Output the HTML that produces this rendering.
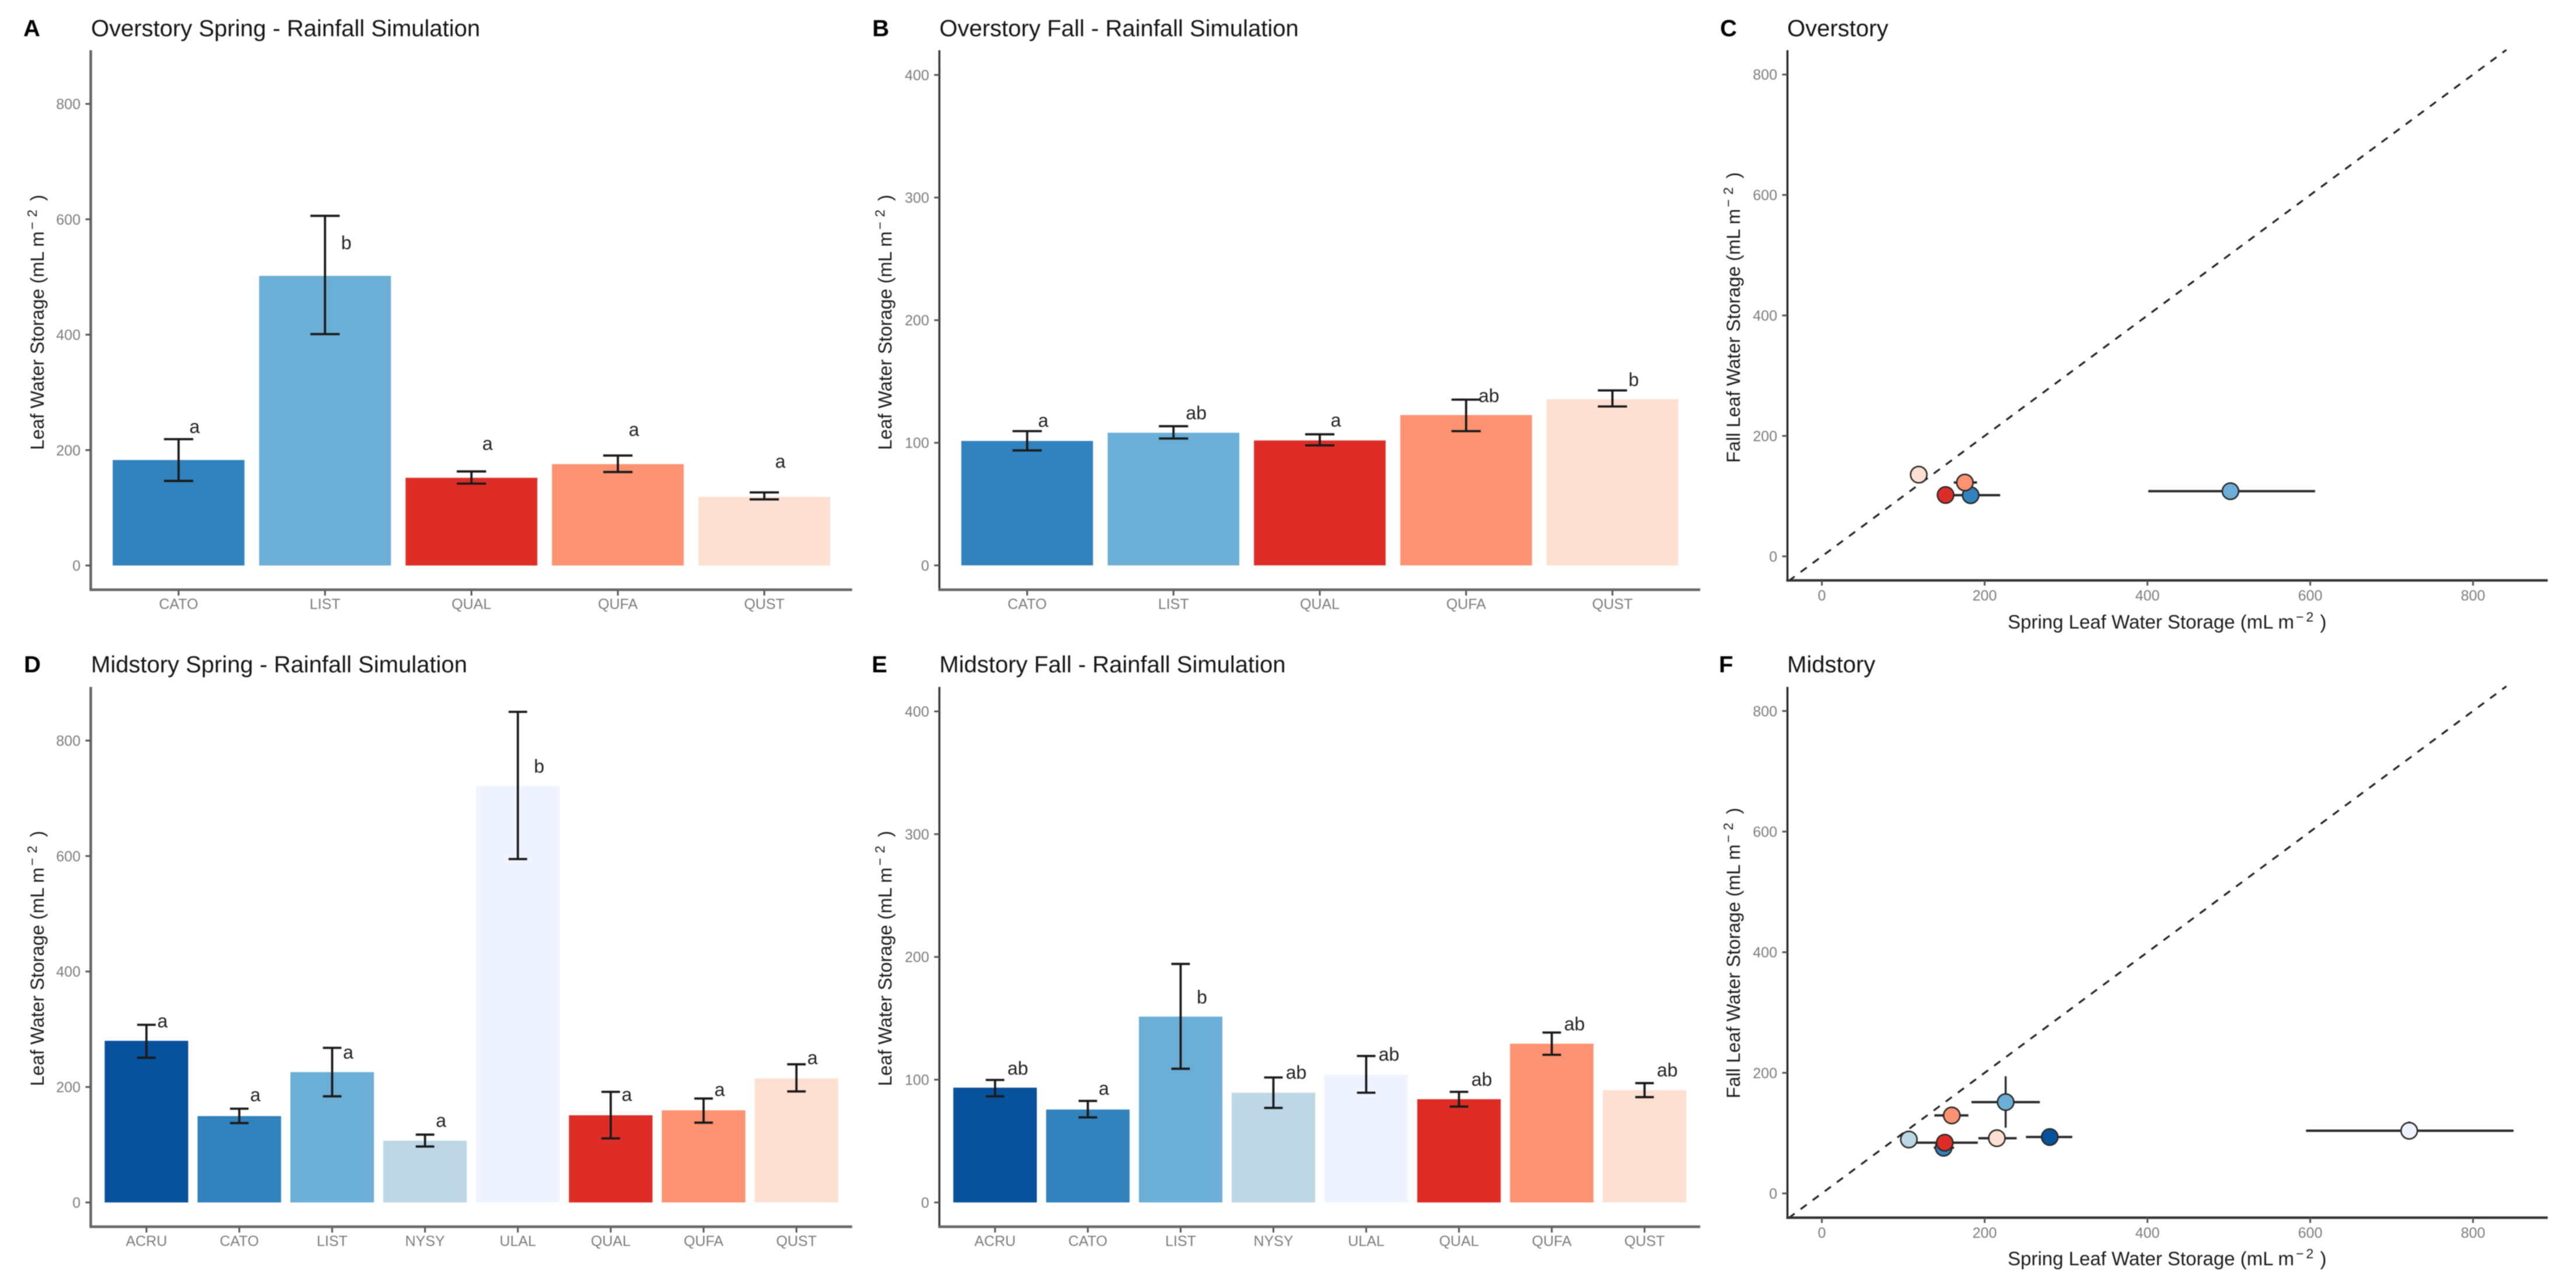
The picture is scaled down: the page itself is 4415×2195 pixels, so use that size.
<!DOCTYPE html>
<html lang="en">
<head>
<meta charset="utf-8">
<title>Leaf Water Storage - Rainfall Simulation</title>
<style>
  html, body { margin: 0; padding: 0; background: #ffffff; }
  svg { display: block; filter: blur(0.7px); }
  text { font-family: "Liberation Sans", Arial, sans-serif; }
  .title { font-size: 40px; fill: #151515; }
  .tag { font-size: 40px; font-weight: bold; fill: #000000; }
  .axis-title { font-size: 32px; fill: #1c1c1c; }
  .axis-title-x { font-size: 33px; fill: #1c1c1c; }
  .tick-label { font-size: 25px; fill: #7c7c7c; }
  .sig-label { font-size: 32px; fill: #222222; text-anchor: middle; }
</style>
</head>
<body>
<svg id="figure" xmlns="http://www.w3.org/2000/svg" width="4415" height="2195" viewBox="0 0 4415 2195">
  <rect x="0" y="0" width="4415" height="2195" fill="#ffffff"/>

  <g id="panel-a">
    <text class="tag" x="40" y="62">A</text>
    <text class="title" x="156" y="62">Overstory Spring - Rainfall Simulation</text>
    <text class="axis-title" transform="translate(75,771) rotate(-90)">Leaf Water Storage (mL m<tspan font-size="23" dx="3" dy="-12">−</tspan><tspan font-size="23" dx="8">2</tspan><tspan dx="6" dy="12"> )</tspan></text>
  </g>
  <g id="panel-b">
    <text class="tag" x="1495" y="62">B</text>
    <text class="title" x="1610" y="62">Overstory Fall - Rainfall Simulation</text>
    <text class="axis-title" transform="translate(1528,771) rotate(-90)">Leaf Water Storage (mL m<tspan font-size="23" dx="3" dy="-12">−</tspan><tspan font-size="23" dx="8">2</tspan><tspan dx="6" dy="12"> )</tspan></text>
  </g>
  <g id="panel-c">
    <text class="tag" x="2948" y="62">C</text>
    <text class="title" x="3063" y="62">Overstory</text>
    <text class="axis-title" transform="translate(2982,793) rotate(-90)">Fall Leaf Water Storage (mL m<tspan font-size="23" dx="3" dy="-12">−</tspan><tspan font-size="23" dx="8">2</tspan><tspan dx="6" dy="12"> )</tspan></text>
    <text class="axis-title-x" x="3441" y="1077">Spring Leaf Water Storage (mL m<tspan font-size="23" dx="3" dy="-12">−</tspan><tspan font-size="23" dx="4">2</tspan><tspan dx="2" dy="12"> )</tspan></text>
  </g>
  <g id="panel-d">
    <text class="tag" x="41" y="1152">D</text>
    <text class="title" x="156" y="1152">Midstory Spring - Rainfall Simulation</text>
    <text class="axis-title" transform="translate(75,1861) rotate(-90)">Leaf Water Storage (mL m<tspan font-size="23" dx="3" dy="-12">−</tspan><tspan font-size="23" dx="8">2</tspan><tspan dx="6" dy="12"> )</tspan></text>
  </g>
  <g id="panel-e">
    <text class="tag" x="1494" y="1152">E</text>
    <text class="title" x="1610" y="1152">Midstory Fall - Rainfall Simulation</text>
    <text class="axis-title" transform="translate(1528,1861) rotate(-90)">Leaf Water Storage (mL m<tspan font-size="23" dx="3" dy="-12">−</tspan><tspan font-size="23" dx="8">2</tspan><tspan dx="6" dy="12"> )</tspan></text>
  </g>
  <g id="panel-f">
    <text class="tag" x="2946" y="1152">F</text>
    <text class="title" x="3063" y="1152">Midstory</text>
    <text class="axis-title" transform="translate(2982,1882) rotate(-90)">Fall Leaf Water Storage (mL m<tspan font-size="23" dx="3" dy="-12">−</tspan><tspan font-size="23" dx="8">2</tspan><tspan dx="6" dy="12"> )</tspan></text>
    <text class="axis-title-x" x="3441" y="2168">Spring Leaf Water Storage (mL m<tspan font-size="23" dx="3" dy="-12">−</tspan><tspan font-size="23" dx="4">2</tspan><tspan dx="2" dy="12"> )</tspan></text>
  </g>
</svg>

<script>
// ---------- Data ----------
const overstoryCategories = ['CATO', 'LIST', 'QUAL', 'QUFA', 'QUST'];
const midstoryCategories = ['ACRU', 'CATO', 'LIST', 'NYSY', 'ULAL', 'QUAL', 'QUFA', 'QUST'];

const overstorySpringMeans = [182.8, 502, 152, 175.7, 119];
const overstorySpringLow = [146.6, 401, 142, 162, 114.6];
const overstorySpringHigh = [219, 606, 163, 190.6, 126.7];
const overstorySpringLetters = ['a', 'b', 'a', 'a', 'a'];
const overstorySpringLetterValues = [238, 560, 208.6, 233, 178];

const overstoryFallMeans = [101.5, 108.2, 101.9, 122.6, 135.6];
const overstoryFallLow = [93.8, 103.5, 97.9, 109.5, 129.6];
const overstoryFallHigh = [109.5, 113.5, 106.9, 135.2, 142.7];
const overstoryFallLetters = ['a', 'ab', 'a', 'ab', 'b'];
const overstoryFallLetterValues = [117, 124, 117.3, 138, 151.7];

const midstorySpringMeans = [280, 149.6, 225.8, 106.9, 721.6, 151, 159.6, 215];
const midstorySpringLow = [250.7, 137.5, 183.8, 96.9, 594.8, 111, 138.2, 192.3];
const midstorySpringHigh = [307.7, 162.4, 267.8, 117.5, 849.8, 191.6, 180, 239.3];
const midstorySpringLetters = ['a', 'a', 'a', 'a', 'b', 'a', 'a', 'a'];
const midstorySpringLetterValues = [312, 183.8, 257.9, 139.6, 755.8, 184.5, 193, 247.9];

const midstoryFallMeans = [93.5, 75.7, 151.4, 89.4, 103.9, 84.1, 129.3, 91.5];
const midstoryFallLow = [86.4, 69.3, 108.9, 77, 89.4, 78.1, 120.3, 85.8];
const midstoryFallHigh = [99.8, 82.7, 194.3, 101.8, 119.3, 90.1, 138.4, 97.2];
const midstoryFallLetters = ['ab', 'a', 'b', 'ab', 'ab', 'ab', 'ab', 'ab'];
const midstoryFallLetterValues = [108.9, 91.8, 167.5, 105.5, 120.3, 99.8, 145, 107.5];

const springTickLabels = [0, 200, 400, 600, 800];
const fallTickLabels = [0, 100, 200, 300, 400];
const scatterTickLabels = [0, 200, 400, 600, 800];
const identityLineEnds = [-41, 841];

const speciesColors = {
  ACRU: '#08519c', CATO: '#3182bd', LIST: '#6baed6', NYSY: '#bdd7e7',
  ULAL: '#eff3ff', QUAL: '#de2d26', QUFA: '#fc9272', QUST: '#fee0d2'
};

// ---------- Helpers ----------
const SVG_NS = 'http://www.w3.org/2000/svg';
function mk(parent, tag, attrs, text) {
  const node = document.createElementNS(SVG_NS, tag);
  for (const key in attrs) node.setAttribute(key, attrs[key]);
  if (text !== undefined) node.textContent = text;
  parent.appendChild(node);
  return node;
}
function linearScale(v0, p0, v1, p1) {
  return function (v) { return p0 + (v - v0) * (p1 - p0) / (v1 - v0); };
}
const letterOffsets = { a: 27.5, b: 36.5, ab: 39 };
const letterBaselineShift = { a: 8.5, b: 11.5, ab: 10 };

function drawAxes(g, key, cfg) {
  const yLine = mk(g, 'line', { x1: cfg.left, x2: cfg.left, y1: cfg.top, y2: cfg.axisY + 2, stroke: cfg.yAxisColor, 'stroke-width': cfg.yAxisWidth });
  
  
  const xLine = mk(g, 'line', { x1: cfg.left - 2, x2: cfg.right, y1: cfg.axisY, y2: cfg.axisY, stroke: cfg.xAxisColor, 'stroke-width': cfg.xAxisWidth });
  
  
}

function drawYTicks(g, key, cfg, y, ticks) {
  ticks.forEach(function (t) {
    const mark = mk(g, 'line', { x1: cfg.left - 9, x2: cfg.left, y1: y(t), y2: y(t), stroke: '#555555', 'stroke-width': 3 });
    
    
    const label = mk(g, 'text', { class: 'tick-label', x: cfg.left - 17.5, y: y(t) + 9, 'text-anchor': 'end' }, String(t));
    
    
  });
}

function drawBarPanel(cfg) {
  const g = document.getElementById(cfg.id);
  const key = cfg.id;
  const n = cfg.categories.length;
  const step = (cfg.right - cfg.left) / (n - 1 + 1.2);
  const xCenter = function (i) { return cfg.left + (0.6 + i) * step; };
  const y = linearScale(0, cfg.yZero, cfg.yRefValue, cfg.yRefPx);
  const barW = 0.9 * step;
  const capW = 0.2 * step;

  cfg.categories.forEach(function (cat, i) {
    const cx = xCenter(i);
    const bar = mk(g, 'rect', { x: cx - barW / 2, y: y(cfg.means[i]), width: barW, height: y(0) - y(cfg.means[i]), fill: speciesColors[cat] });
    
    
  });

  cfg.categories.forEach(function (cat, i) {
    const cx = xCenter(i);
    const eg = mk(g, 'g', { stroke: '#1a1a1a', 'stroke-width': 3.8, fill: 'none' });
    
    
    const stem = mk(eg, 'line', { x1: cx, x2: cx, y1: y(cfg.low[i]), y2: y(cfg.high[i]) });
    
    
    const capTop = mk(eg, 'line', { x1: cx - capW / 2, x2: cx + capW / 2, y1: y(cfg.high[i]), y2: y(cfg.high[i]) });
    
    
    const capBottom = mk(eg, 'line', { x1: cx - capW / 2, x2: cx + capW / 2, y1: y(cfg.low[i]), y2: y(cfg.low[i]) });
    
    

    const letter = cfg.letters[i];
    const sig = mk(g, 'text', { class: 'sig-label', x: cx + letterOffsets[letter], y: y(cfg.letterValues[i]) + letterBaselineShift[letter] }, letter);
    
    

    const tick = mk(g, 'line', { x1: cx, x2: cx, y1: cfg.axisY, y2: cfg.axisY + 10, stroke: '#555555', 'stroke-width': 3 });
    
    
    const label = mk(g, 'text', { class: 'tick-label', x: cx, y: cfg.axisY + 33, 'text-anchor': 'middle' }, cat);
    
    
  });

  drawAxes(g, key, cfg);
  drawYTicks(g, key, cfg, y, cfg.ticks);
}

function drawScatterPanel(cfg) {
  const g = document.getElementById(cfg.id);
  const key = cfg.id;
  const x = linearScale(0, cfg.xZero, 800, cfg.xRefPx);
  const y = linearScale(0, cfg.yZero, 800, cfg.yRefPx);

  const refLine = mk(g, 'line', {
    x1: x(identityLineEnds[0]), y1: y(identityLineEnds[0]),
    x2: x(identityLineEnds[1]), y2: y(identityLineEnds[1]),
    stroke: '#222222', 'stroke-width': 3.2, 'stroke-dasharray': '13 12.8'
  });
  
  

  cfg.categories.forEach(function (cat, i) {
    const h = mk(g, 'line', { x1: x(cfg.springLow[i]), x2: x(cfg.springHigh[i]), y1: y(cfg.fallMeans[i]), y2: y(cfg.fallMeans[i]), stroke: '#2a2a2a', 'stroke-width': 4 });
    
    
    const v = mk(g, 'line', { x1: x(cfg.springMeans[i]), x2: x(cfg.springMeans[i]), y1: y(cfg.fallLow[i]), y2: y(cfg.fallHigh[i]), stroke: '#2a2a2a', 'stroke-width': 3.4 });
    
    
  });

  cfg.categories.forEach(function (cat, i) {
    const dot = mk(g, 'circle', { cx: x(cfg.springMeans[i]), cy: y(cfg.fallMeans[i]), r: 14, fill: speciesColors[cat], stroke: '#2b2b2b', 'stroke-width': 2.6 });
    
    
  });

  drawAxes(g, key, cfg);
  drawYTicks(g, key, cfg, y, scatterTickLabels);

  scatterTickLabels.forEach(function (t) {
    const tick = mk(g, 'line', { x1: x(t), x2: x(t), y1: cfg.axisY, y2: cfg.axisY + 9, stroke: '#555555', 'stroke-width': 3 });
    
    
    const label = mk(g, 'text', { class: 'tick-label', x: x(t), y: cfg.axisY + 34.5, 'text-anchor': 'middle' }, String(t));
    
    
  });
}

// ---------- Panels ----------
drawBarPanel({
  id: 'panel-a', categories: overstoryCategories,
  means: overstorySpringMeans, low: overstorySpringLow, high: overstorySpringHigh,
  letters: overstorySpringLetters, letterValues: overstorySpringLetterValues, ticks: springTickLabels,
  left: 155.5, right: 1460.5, top: 86, axisY: 1010.5,
  yZero: 969, yRefValue: 800, yRefPx: 178,
  yAxisColor: '#666666', yAxisWidth: 4.5, xAxisColor: '#666666', xAxisWidth: 4.5
});
drawBarPanel({
  id: 'panel-b', categories: overstoryCategories,
  means: overstoryFallMeans, low: overstoryFallLow, high: overstoryFallHigh,
  letters: overstoryFallLetters, letterValues: overstoryFallLetterValues, ticks: fallTickLabels,
  left: 1610, right: 2914, top: 86, axisY: 1010.5,
  yZero: 968.8, yRefValue: 400, yRefPx: 128.4,
  yAxisColor: '#333333', yAxisWidth: 3.4, xAxisColor: '#666666', xAxisWidth: 4.5
});
drawScatterPanel({
  id: 'panel-c', categories: overstoryCategories,
  springMeans: overstorySpringMeans, springLow: overstorySpringLow, springHigh: overstorySpringHigh,
  fallMeans: overstoryFallMeans, fallLow: overstoryFallLow, fallHigh: overstoryFallHigh,
  left: 3063.5, right: 4366.5, top: 86, axisY: 994.5,
  xZero: 3122.5, xRefPx: 4238.5, yZero: 953.3, yRefPx: 127.7,
  yAxisColor: '#222222', yAxisWidth: 3.4, xAxisColor: '#333333', xAxisWidth: 4.2
});
drawBarPanel({
  id: 'panel-d', categories: midstoryCategories,
  means: midstorySpringMeans, low: midstorySpringLow, high: midstorySpringHigh,
  letters: midstorySpringLetters, letterValues: midstorySpringLetterValues, ticks: springTickLabels,
  left: 155.5, right: 1460.5, top: 1177, axisY: 2102,
  yZero: 2060.4, yRefValue: 800, yRefPx: 1269,
  yAxisColor: '#666666', yAxisWidth: 4.5, xAxisColor: '#666666', xAxisWidth: 4.5
});
drawBarPanel({
  id: 'panel-e', categories: midstoryCategories,
  means: midstoryFallMeans, low: midstoryFallLow, high: midstoryFallHigh,
  letters: midstoryFallLetters, letterValues: midstoryFallLetterValues, ticks: fallTickLabels,
  left: 1610, right: 2914, top: 1177, axisY: 2102,
  yZero: 2060.4, yRefValue: 400, yRefPx: 1219,
  yAxisColor: '#333333', yAxisWidth: 3.4, xAxisColor: '#666666', xAxisWidth: 4.5
});
drawScatterPanel({
  id: 'panel-f', categories: midstoryCategories,
  springMeans: midstorySpringMeans, springLow: midstorySpringLow, springHigh: midstorySpringHigh,
  fallMeans: midstoryFallMeans, fallLow: midstoryFallLow, fallHigh: midstoryFallHigh,
  left: 3063.5, right: 4366.5, top: 1177, axisY: 2086.5,
  xZero: 3122.5, xRefPx: 4238.5, yZero: 2044.9, yRefPx: 1218.3,
  yAxisColor: '#222222', yAxisWidth: 3.4, xAxisColor: '#333333', xAxisWidth: 4.2
});
</script>
</body>
</html>
